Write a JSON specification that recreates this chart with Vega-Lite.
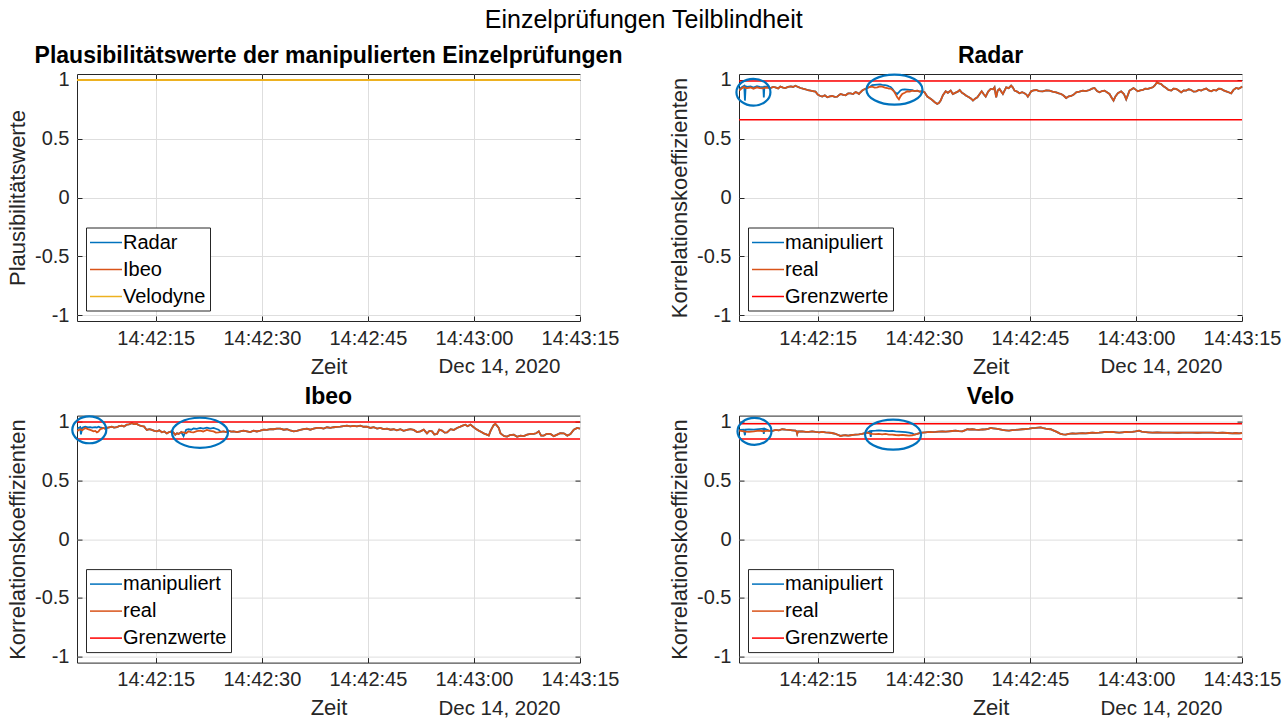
{
  "$schema": "https://vega.github.io/schema/vega-lite/v6.json",
  "padding": {"left": 6, "top": 8, "right": 0, "bottom": 0},
  "title": {"text": "Einzelprüfungen Teilblindheit", "fontSize": 25, "fontWeight": "normal", "color": "#000000", "anchor": "middle", "offset": 11},
  "config": {
    "font": "Liberation Sans",
    "background": "#ffffff",
    "view": {"stroke": "#262626", "strokeWidth": 1},
    "title": {"font": "Liberation Sans", "fontSize": 23, "fontWeight": "bold", "color": "#000000", "anchor": "middle", "offset": 2},
    "axis": {
      "labelFont": "Liberation Sans", "labelFontSize": 20, "labelColor": "#262626",
      "titleFont": "Liberation Sans", "titleFontSize": 22, "titleFontWeight": "normal", "titleColor": "#262626",
      "gridColor": "#DEDEDE", "gridWidth": 1, "gridOpacity": 1,
      "tickColor": "#262626", "tickSize": -5, "tickWidth": 1,
      "domain": false, "labelFlush": false, "labelOverlap": false
    },
    "legend": {
      "labelFont": "Liberation Sans", "labelFontSize": 20, "labelColor": "#000000",
      "strokeColor": "#262626", "fillColor": "#ffffff", "padding": 4, "rowPadding": 6,
      "symbolType": "M-1.6,0H1.6", "symbolSize": 400, "symbolStrokeWidth": 1.5,
      "symbolOffset": 5, "labelOffset": 6
    }
  },
  "datasets": {
    "plaus": [
      {"t": "2020-12-14T14:42:03.86Z", "radar": 1, "ibeo": 1, "velodyne": 1},
      {"t": "2020-12-14T14:43:15Z", "radar": 1, "ibeo": 1, "velodyne": 1}
    ],
    "limits": [
      {"p": "Radar", "v": 0.99}, {"p": "Radar", "v": 0.66},
      {"p": "Ibeo", "v": 0.995}, {"p": "Ibeo", "v": 0.85},
      {"p": "Velo", "v": 0.98}, {"p": "Velo", "v": 0.85}
    ],
    "rings": [
      {"p": "Radar", "t": "2020-12-14T14:42:05.9Z", "v": 0.895, "k": "a"},
      {"p": "Radar", "t": "2020-12-14T14:42:25.85Z", "v": 0.917, "k": "b"},
      {"p": "Ibeo", "t": "2020-12-14T14:42:05.6Z", "v": 0.929, "k": "a"},
      {"p": "Ibeo", "t": "2020-12-14T14:42:21.25Z", "v": 0.904, "k": "b"},
      {"p": "Velo", "t": "2020-12-14T14:42:06.05Z", "v": 0.916, "k": "a"},
      {"p": "Velo", "t": "2020-12-14T14:42:25.65Z", "v": 0.888, "k": "b"}
    ],
    "radar": [
      {"t":"2020-12-14T14:42:03.9Z","r":0.91,"m":0.92},
      {"t":"2020-12-14T14:42:04.3Z","r":0.93,"m":0.94},
      {"t":"2020-12-14T14:42:04.6Z","r":0.94,"m":0.95},
      {"t":"2020-12-14T14:42:04.7Z","r":0.935,"m":0.824},
      {"t":"2020-12-14T14:42:04.8Z","r":0.93,"m":0.945},
      {"t":"2020-12-14T14:42:05.0Z","r":0.93,"m":0.94},
      {"t":"2020-12-14T14:42:05.5Z","r":0.935,"m":0.945},
      {"t":"2020-12-14T14:42:05.9Z","r":0.925,"m":0.935},
      {"t":"2020-12-14T14:42:06.4Z","r":0.937,"m":0.947},
      {"t":"2020-12-14T14:42:06.8Z","r":0.93,"m":0.94},
      {"t":"2020-12-14T14:42:07.3Z","r":0.928,"m":0.938},
      {"t":"2020-12-14T14:42:07.37Z","r":0.93,"m":0.85},
      {"t":"2020-12-14T14:42:07.45Z","r":0.932,"m":0.942},
      {"t":"2020-12-14T14:42:07.8Z","r":0.935,"m":0.943},
      {"t":"2020-12-14T14:42:08.3Z","r":0.93,"m":0.93},
      {"t":"2020-12-14T14:42:08.7Z","r":0.94,"m":0.94},
      {"t":"2020-12-14T14:42:09.0Z","r":0.937,"m":0.937},
      {"t":"2020-12-14T14:42:09.4Z","r":0.928,"m":0.928},
      {"t":"2020-12-14T14:42:09.7Z","r":0.943,"m":0.943},
      {"t":"2020-12-14T14:42:10.1Z","r":0.935,"m":0.935},
      {"t":"2020-12-14T14:42:10.4Z","r":0.93,"m":0.93},
      {"t":"2020-12-14T14:42:10.8Z","r":0.94,"m":0.94},
      {"t":"2020-12-14T14:42:11.2Z","r":0.945,"m":0.945},
      {"t":"2020-12-14T14:42:11.5Z","r":0.94,"m":0.94},
      {"t":"2020-12-14T14:42:11.85Z","r":0.951,"m":0.951},
      {"t":"2020-12-14T14:42:12.2Z","r":0.94,"m":0.94},
      {"t":"2020-12-14T14:42:12.56Z","r":0.931,"m":0.931},
      {"t":"2020-12-14T14:42:12.9Z","r":0.925,"m":0.925},
      {"t":"2020-12-14T14:42:13.27Z","r":0.92,"m":0.92},
      {"t":"2020-12-14T14:42:13.6Z","r":0.912,"m":0.912},
      {"t":"2020-12-14T14:42:13.98Z","r":0.909,"m":0.909},
      {"t":"2020-12-14T14:42:14.3Z","r":0.905,"m":0.905},
      {"t":"2020-12-14T14:42:14.68Z","r":0.9,"m":0.9},
      {"t":"2020-12-14T14:42:15.0Z","r":0.875,"m":0.875},
      {"t":"2020-12-14T14:42:15.3Z","r":0.865,"m":0.865},
      {"t":"2020-12-14T14:42:15.63Z","r":0.858,"m":0.858},
      {"t":"2020-12-14T14:42:16.0Z","r":0.868,"m":0.868},
      {"t":"2020-12-14T14:42:16.34Z","r":0.852,"m":0.852},
      {"t":"2020-12-14T14:42:16.7Z","r":0.86,"m":0.86},
      {"t":"2020-12-14T14:42:17.04Z","r":0.863,"m":0.863},
      {"t":"2020-12-14T14:42:17.4Z","r":0.855,"m":0.855},
      {"t":"2020-12-14T14:42:17.75Z","r":0.858,"m":0.858},
      {"t":"2020-12-14T14:42:18.0Z","r":0.87,"m":0.87},
      {"t":"2020-12-14T14:42:18.22Z","r":0.88,"m":0.88},
      {"t":"2020-12-14T14:42:18.6Z","r":0.872,"m":0.872},
      {"t":"2020-12-14T14:42:18.93Z","r":0.869,"m":0.869},
      {"t":"2020-12-14T14:42:19.3Z","r":0.885,"m":0.885},
      {"t":"2020-12-14T14:42:19.64Z","r":0.886,"m":0.886},
      {"t":"2020-12-14T14:42:20.0Z","r":0.88,"m":0.88},
      {"t":"2020-12-14T14:42:20.35Z","r":0.897,"m":0.897},
      {"t":"2020-12-14T14:42:20.6Z","r":0.89,"m":0.89},
      {"t":"2020-12-14T14:42:20.82Z","r":0.88,"m":0.88},
      {"t":"2020-12-14T14:42:21.05Z","r":0.895,"m":0.895},
      {"t":"2020-12-14T14:42:21.29Z","r":0.909,"m":0.909},
      {"t":"2020-12-14T14:42:21.6Z","r":0.92,"m":0.92},
      {"t":"2020-12-14T14:42:22.0Z","r":0.931,"m":0.931},
      {"t":"2020-12-14T14:42:22.35Z","r":0.94,"m":0.94},
      {"t":"2020-12-14T14:42:22.7Z","r":0.943,"m":0.955},
      {"t":"2020-12-14T14:42:23.05Z","r":0.935,"m":0.958},
      {"t":"2020-12-14T14:42:23.41Z","r":0.937,"m":0.96},
      {"t":"2020-12-14T14:42:23.8Z","r":0.945,"m":0.962},
      {"t":"2020-12-14T14:42:24.12Z","r":0.943,"m":0.958},
      {"t":"2020-12-14T14:42:24.5Z","r":0.935,"m":0.955},
      {"t":"2020-12-14T14:42:24.83Z","r":0.931,"m":0.952},
      {"t":"2020-12-14T14:42:25.05Z","r":0.925,"m":0.945},
      {"t":"2020-12-14T14:42:25.3Z","r":0.926,"m":0.94},
      {"t":"2020-12-14T14:42:25.55Z","r":0.915,"m":0.925},
      {"t":"2020-12-14T14:42:25.77Z","r":0.903,"m":0.905},
      {"t":"2020-12-14T14:42:26.0Z","r":0.88,"m":0.89},
      {"t":"2020-12-14T14:42:26.24Z","r":0.852,"m":0.88},
      {"t":"2020-12-14T14:42:26.48Z","r":0.835,"m":0.895},
      {"t":"2020-12-14T14:42:26.7Z","r":0.86,"m":0.91},
      {"t":"2020-12-14T14:42:26.95Z","r":0.88,"m":0.918},
      {"t":"2020-12-14T14:42:27.3Z","r":0.89,"m":0.92},
      {"t":"2020-12-14T14:42:27.66Z","r":0.903,"m":0.918},
      {"t":"2020-12-14T14:42:28.0Z","r":0.9,"m":0.915},
      {"t":"2020-12-14T14:42:28.37Z","r":0.909,"m":0.912},
      {"t":"2020-12-14T14:42:28.7Z","r":0.905,"m":0.905},
      {"t":"2020-12-14T14:42:29.07Z","r":0.909,"m":0.909},
      {"t":"2020-12-14T14:42:29.4Z","r":0.9,"m":0.9},
      {"t":"2020-12-14T14:42:29.78Z","r":0.903,"m":0.903},
      {"t":"2020-12-14T14:42:30.1Z","r":0.895,"m":0.895},
      {"t":"2020-12-14T14:42:30.49Z","r":0.858,"m":0.858},
      {"t":"2020-12-14T14:42:30.8Z","r":0.845,"m":0.845},
      {"t":"2020-12-14T14:42:31.19Z","r":0.829,"m":0.829},
      {"t":"2020-12-14T14:42:31.55Z","r":0.81,"m":0.81},
      {"t":"2020-12-14T14:42:31.9Z","r":0.795,"m":0.795},
      {"t":"2020-12-14T14:42:32.15Z","r":0.805,"m":0.805},
      {"t":"2020-12-14T14:42:32.38Z","r":0.824,"m":0.824},
      {"t":"2020-12-14T14:42:32.7Z","r":0.87,"m":0.87},
      {"t":"2020-12-14T14:42:33.09Z","r":0.903,"m":0.903},
      {"t":"2020-12-14T14:42:33.4Z","r":0.89,"m":0.89},
      {"t":"2020-12-14T14:42:33.8Z","r":0.909,"m":0.909},
      {"t":"2020-12-14T14:42:34.1Z","r":0.88,"m":0.88},
      {"t":"2020-12-14T14:42:34.5Z","r":0.892,"m":0.892},
      {"t":"2020-12-14T14:42:34.8Z","r":0.9,"m":0.9},
      {"t":"2020-12-14T14:42:35.07Z","r":0.914,"m":0.914},
      {"t":"2020-12-14T14:42:35.4Z","r":0.89,"m":0.89},
      {"t":"2020-12-14T14:42:35.68Z","r":0.88,"m":0.88},
      {"t":"2020-12-14T14:42:36.0Z","r":0.865,"m":0.865},
      {"t":"2020-12-14T14:42:36.39Z","r":0.852,"m":0.852},
      {"t":"2020-12-14T14:42:36.7Z","r":0.84,"m":0.84},
      {"t":"2020-12-14T14:42:36.95Z","r":0.824,"m":0.824},
      {"t":"2020-12-14T14:42:37.25Z","r":0.84,"m":0.84},
      {"t":"2020-12-14T14:42:37.57Z","r":0.852,"m":0.852},
      {"t":"2020-12-14T14:42:37.9Z","r":0.88,"m":0.88},
      {"t":"2020-12-14T14:42:38.18Z","r":0.903,"m":0.903},
      {"t":"2020-12-14T14:42:38.45Z","r":0.88,"m":0.88},
      {"t":"2020-12-14T14:42:38.75Z","r":0.858,"m":0.858},
      {"t":"2020-12-14T14:42:39.1Z","r":0.9,"m":0.9},
      {"t":"2020-12-14T14:42:39.46Z","r":0.923,"m":0.923},
      {"t":"2020-12-14T14:42:39.8Z","r":0.92,"m":0.92},
      {"t":"2020-12-14T14:42:40.0Z","r":0.937,"m":0.937},
      {"t":"2020-12-14T14:42:40.23Z","r":0.852,"m":0.852},
      {"t":"2020-12-14T14:42:40.45Z","r":0.91,"m":0.91},
      {"t":"2020-12-14T14:42:40.7Z","r":0.923,"m":0.923},
      {"t":"2020-12-14T14:42:41.18Z","r":0.88,"m":0.88},
      {"t":"2020-12-14T14:42:41.65Z","r":0.937,"m":0.937},
      {"t":"2020-12-14T14:42:42.0Z","r":0.93,"m":0.93},
      {"t":"2020-12-14T14:42:42.35Z","r":0.951,"m":0.951},
      {"t":"2020-12-14T14:42:42.6Z","r":0.935,"m":0.935},
      {"t":"2020-12-14T14:42:42.83Z","r":0.909,"m":0.909},
      {"t":"2020-12-14T14:42:43.2Z","r":0.9,"m":0.9},
      {"t":"2020-12-14T14:42:43.53Z","r":0.886,"m":0.886},
      {"t":"2020-12-14T14:42:43.9Z","r":0.895,"m":0.895},
      {"t":"2020-12-14T14:42:44.24Z","r":0.886,"m":0.886},
      {"t":"2020-12-14T14:42:44.5Z","r":0.875,"m":0.875},
      {"t":"2020-12-14T14:42:44.71Z","r":0.858,"m":0.858},
      {"t":"2020-12-14T14:42:44.95Z","r":0.88,"m":0.88},
      {"t":"2020-12-14T14:42:45.18Z","r":0.903,"m":0.903},
      {"t":"2020-12-14T14:42:45.5Z","r":0.91,"m":0.91},
      {"t":"2020-12-14T14:42:45.89Z","r":0.914,"m":0.914},
      {"t":"2020-12-14T14:42:46.3Z","r":0.905,"m":0.905},
      {"t":"2020-12-14T14:42:46.83Z","r":0.903,"m":0.903},
      {"t":"2020-12-14T14:42:47.3Z","r":0.91,"m":0.91},
      {"t":"2020-12-14T14:42:47.78Z","r":0.909,"m":0.909},
      {"t":"2020-12-14T14:42:48.2Z","r":0.9,"m":0.9},
      {"t":"2020-12-14T14:42:48.72Z","r":0.894,"m":0.894},
      {"t":"2020-12-14T14:42:49.1Z","r":0.885,"m":0.885},
      {"t":"2020-12-14T14:42:49.43Z","r":0.88,"m":0.88},
      {"t":"2020-12-14T14:42:49.8Z","r":0.865,"m":0.865},
      {"t":"2020-12-14T14:42:50.13Z","r":0.846,"m":0.846},
      {"t":"2020-12-14T14:42:50.5Z","r":0.86,"m":0.86},
      {"t":"2020-12-14T14:42:50.84Z","r":0.863,"m":0.863},
      {"t":"2020-12-14T14:42:51.2Z","r":0.875,"m":0.875},
      {"t":"2020-12-14T14:42:51.55Z","r":0.894,"m":0.894},
      {"t":"2020-12-14T14:42:52.0Z","r":0.9,"m":0.9},
      {"t":"2020-12-14T14:42:52.49Z","r":0.909,"m":0.909},
      {"t":"2020-12-14T14:42:52.9Z","r":0.905,"m":0.905},
      {"t":"2020-12-14T14:42:53.43Z","r":0.914,"m":0.914},
      {"t":"2020-12-14T14:42:53.8Z","r":0.925,"m":0.925},
      {"t":"2020-12-14T14:42:54.14Z","r":0.931,"m":0.931},
      {"t":"2020-12-14T14:42:54.5Z","r":0.905,"m":0.905},
      {"t":"2020-12-14T14:42:54.85Z","r":0.894,"m":0.894},
      {"t":"2020-12-14T14:42:55.2Z","r":0.905,"m":0.905},
      {"t":"2020-12-14T14:42:55.56Z","r":0.909,"m":0.909},
      {"t":"2020-12-14T14:42:55.9Z","r":0.895,"m":0.895},
      {"t":"2020-12-14T14:42:56.26Z","r":0.88,"m":0.88},
      {"t":"2020-12-14T14:42:56.55Z","r":0.85,"m":0.85},
      {"t":"2020-12-14T14:42:56.83Z","r":0.824,"m":0.824},
      {"t":"2020-12-14T14:42:57.1Z","r":0.86,"m":0.86},
      {"t":"2020-12-14T14:42:57.44Z","r":0.886,"m":0.886},
      {"t":"2020-12-14T14:42:57.91Z","r":0.903,"m":0.903},
      {"t":"2020-12-14T14:42:58.3Z","r":0.88,"m":0.88},
      {"t":"2020-12-14T14:42:58.62Z","r":0.835,"m":0.835},
      {"t":"2020-12-14T14:42:58.85Z","r":0.87,"m":0.87},
      {"t":"2020-12-14T14:42:59.09Z","r":0.909,"m":0.909},
      {"t":"2020-12-14T14:42:59.4Z","r":0.92,"m":0.92},
      {"t":"2020-12-14T14:42:59.66Z","r":0.931,"m":0.931},
      {"t":"2020-12-14T14:43:00.0Z","r":0.915,"m":0.915},
      {"t":"2020-12-14T14:43:00.27Z","r":0.903,"m":0.903},
      {"t":"2020-12-14T14:43:00.6Z","r":0.91,"m":0.91},
      {"t":"2020-12-14T14:43:00.98Z","r":0.914,"m":0.914},
      {"t":"2020-12-14T14:43:01.3Z","r":0.925,"m":0.925},
      {"t":"2020-12-14T14:43:01.69Z","r":0.923,"m":0.923},
      {"t":"2020-12-14T14:43:02.0Z","r":0.93,"m":0.93},
      {"t":"2020-12-14T14:43:02.39Z","r":0.937,"m":0.937},
      {"t":"2020-12-14T14:43:02.7Z","r":0.955,"m":0.955},
      {"t":"2020-12-14T14:43:02.96Z","r":0.979,"m":0.979},
      {"t":"2020-12-14T14:43:03.25Z","r":0.97,"m":0.97},
      {"t":"2020-12-14T14:43:03.57Z","r":0.965,"m":0.965},
      {"t":"2020-12-14T14:43:03.9Z","r":0.945,"m":0.945},
      {"t":"2020-12-14T14:43:04.28Z","r":0.931,"m":0.931},
      {"t":"2020-12-14T14:43:04.6Z","r":0.915,"m":0.915},
      {"t":"2020-12-14T14:43:04.99Z","r":0.909,"m":0.909},
      {"t":"2020-12-14T14:43:05.3Z","r":0.925,"m":0.925},
      {"t":"2020-12-14T14:43:05.69Z","r":0.923,"m":0.923},
      {"t":"2020-12-14T14:43:06.05Z","r":0.91,"m":0.91},
      {"t":"2020-12-14T14:43:06.4Z","r":0.894,"m":0.894},
      {"t":"2020-12-14T14:43:06.75Z","r":0.91,"m":0.91},
      {"t":"2020-12-14T14:43:07.11Z","r":0.909,"m":0.909},
      {"t":"2020-12-14T14:43:07.45Z","r":0.92,"m":0.92},
      {"t":"2020-12-14T14:43:07.81Z","r":0.914,"m":0.914},
      {"t":"2020-12-14T14:43:08.15Z","r":0.9,"m":0.9},
      {"t":"2020-12-14T14:43:08.52Z","r":0.903,"m":0.903},
      {"t":"2020-12-14T14:43:08.9Z","r":0.915,"m":0.915},
      {"t":"2020-12-14T14:43:09.23Z","r":0.909,"m":0.909},
      {"t":"2020-12-14T14:43:09.6Z","r":0.92,"m":0.92},
      {"t":"2020-12-14T14:43:09.94Z","r":0.926,"m":0.926},
      {"t":"2020-12-14T14:43:10.3Z","r":0.91,"m":0.91},
      {"t":"2020-12-14T14:43:10.64Z","r":0.903,"m":0.903},
      {"t":"2020-12-14T14:43:11.0Z","r":0.915,"m":0.915},
      {"t":"2020-12-14T14:43:11.35Z","r":0.909,"m":0.909},
      {"t":"2020-12-14T14:43:11.7Z","r":0.925,"m":0.925},
      {"t":"2020-12-14T14:43:12.06Z","r":0.923,"m":0.923},
      {"t":"2020-12-14T14:43:12.4Z","r":0.91,"m":0.91},
      {"t":"2020-12-14T14:43:12.76Z","r":0.903,"m":0.903},
      {"t":"2020-12-14T14:43:13.1Z","r":0.895,"m":0.895},
      {"t":"2020-12-14T14:43:13.47Z","r":0.886,"m":0.886},
      {"t":"2020-12-14T14:43:13.8Z","r":0.915,"m":0.915},
      {"t":"2020-12-14T14:43:14.18Z","r":0.931,"m":0.931},
      {"t":"2020-12-14T14:43:14.5Z","r":0.925,"m":0.925},
      {"t":"2020-12-14T14:43:14.89Z","r":0.937,"m":0.937},
      {"t":"2020-12-14T14:43:15.0Z","r":0.945,"m":0.945}
    ],
    "ibeo": [
      {"t":"2020-12-14T14:42:03.9Z","r":0.92,"m":0.94},
      {"t":"2020-12-14T14:42:04.31Z","r":0.934,"m":0.952},
      {"t":"2020-12-14T14:42:04.42Z","r":0.93,"m":0.89},
      {"t":"2020-12-14T14:42:04.6Z","r":0.925,"m":0.948},
      {"t":"2020-12-14T14:42:05.02Z","r":0.945,"m":0.955},
      {"t":"2020-12-14T14:42:05.4Z","r":0.935,"m":0.95},
      {"t":"2020-12-14T14:42:05.72Z","r":0.928,"m":0.952},
      {"t":"2020-12-14T14:42:06.0Z","r":0.922,"m":0.948},
      {"t":"2020-12-14T14:42:06.19Z","r":0.916,"m":0.95},
      {"t":"2020-12-14T14:42:06.45Z","r":0.92,"m":0.952},
      {"t":"2020-12-14T14:42:06.67Z","r":0.908,"m":0.948},
      {"t":"2020-12-14T14:42:06.9Z","r":0.915,"m":0.955},
      {"t":"2020-12-14T14:42:07.14Z","r":0.934,"m":0.95},
      {"t":"2020-12-14T14:42:07.4Z","r":0.94,"m":0.945},
      {"t":"2020-12-14T14:42:07.61Z","r":0.945,"m":0.945},
      {"t":"2020-12-14T14:42:07.85Z","r":0.938,"m":0.938},
      {"t":"2020-12-14T14:42:08.08Z","r":0.945,"m":0.945},
      {"t":"2020-12-14T14:42:08.4Z","r":0.95,"m":0.95},
      {"t":"2020-12-14T14:42:08.79Z","r":0.956,"m":0.956},
      {"t":"2020-12-14T14:42:09.1Z","r":0.948,"m":0.948},
      {"t":"2020-12-14T14:42:09.5Z","r":0.951,"m":0.951},
      {"t":"2020-12-14T14:42:09.8Z","r":0.96,"m":0.96},
      {"t":"2020-12-14T14:42:10.2Z","r":0.965,"m":0.965},
      {"t":"2020-12-14T14:42:10.5Z","r":0.958,"m":0.958},
      {"t":"2020-12-14T14:42:10.91Z","r":0.973,"m":0.973},
      {"t":"2020-12-14T14:42:11.2Z","r":0.975,"m":0.975},
      {"t":"2020-12-14T14:42:11.62Z","r":0.985,"m":0.985},
      {"t":"2020-12-14T14:42:11.9Z","r":0.978,"m":0.978},
      {"t":"2020-12-14T14:42:12.33Z","r":0.979,"m":0.979},
      {"t":"2020-12-14T14:42:12.55Z","r":0.97,"m":0.97},
      {"t":"2020-12-14T14:42:12.8Z","r":0.965,"m":0.965},
      {"t":"2020-12-14T14:42:13.1Z","r":0.96,"m":0.96},
      {"t":"2020-12-14T14:42:13.37Z","r":0.956,"m":0.956},
      {"t":"2020-12-14T14:42:13.55Z","r":0.94,"m":0.94},
      {"t":"2020-12-14T14:42:13.74Z","r":0.928,"m":0.928},
      {"t":"2020-12-14T14:42:14.1Z","r":0.935,"m":0.935},
      {"t":"2020-12-14T14:42:14.45Z","r":0.928,"m":0.928},
      {"t":"2020-12-14T14:42:14.8Z","r":0.92,"m":0.92},
      {"t":"2020-12-14T14:42:15.16Z","r":0.916,"m":0.916},
      {"t":"2020-12-14T14:42:15.5Z","r":0.925,"m":0.925},
      {"t":"2020-12-14T14:42:15.87Z","r":0.908,"m":0.908},
      {"t":"2020-12-14T14:42:16.2Z","r":0.915,"m":0.915},
      {"t":"2020-12-14T14:42:16.57Z","r":0.899,"m":0.899},
      {"t":"2020-12-14T14:42:16.9Z","r":0.91,"m":0.91},
      {"t":"2020-12-14T14:42:17.28Z","r":0.916,"m":0.916},
      {"t":"2020-12-14T14:42:17.5Z","r":0.905,"m":0.905},
      {"t":"2020-12-14T14:42:17.75Z","r":0.888,"m":0.888},
      {"t":"2020-12-14T14:42:18.0Z","r":0.9,"m":0.9},
      {"t":"2020-12-14T14:42:18.23Z","r":0.894,"m":0.894},
      {"t":"2020-12-14T14:42:18.6Z","r":0.91,"m":0.91},
      {"t":"2020-12-14T14:42:18.93Z","r":0.908,"m":0.875},
      {"t":"2020-12-14T14:42:19.3Z","r":0.9,"m":0.93},
      {"t":"2020-12-14T14:42:19.64Z","r":0.916,"m":0.935},
      {"t":"2020-12-14T14:42:20.0Z","r":0.91,"m":0.93},
      {"t":"2020-12-14T14:42:20.35Z","r":0.908,"m":0.94},
      {"t":"2020-12-14T14:42:20.8Z","r":0.918,"m":0.938},
      {"t":"2020-12-14T14:42:21.29Z","r":0.922,"m":0.945},
      {"t":"2020-12-14T14:42:21.7Z","r":0.915,"m":0.94},
      {"t":"2020-12-14T14:42:22.23Z","r":0.928,"m":0.948},
      {"t":"2020-12-14T14:42:22.7Z","r":0.92,"m":0.94},
      {"t":"2020-12-14T14:42:23.18Z","r":0.916,"m":0.945},
      {"t":"2020-12-14T14:42:23.5Z","r":0.905,"m":0.938},
      {"t":"2020-12-14T14:42:23.88Z","r":0.908,"m":0.93},
      {"t":"2020-12-14T14:42:24.2Z","r":0.912,"m":0.912},
      {"t":"2020-12-14T14:42:24.59Z","r":0.916,"m":0.916},
      {"t":"2020-12-14T14:42:24.95Z","r":0.91,"m":0.91},
      {"t":"2020-12-14T14:42:25.3Z","r":0.922,"m":0.922},
      {"t":"2020-12-14T14:42:25.65Z","r":0.914,"m":0.914},
      {"t":"2020-12-14T14:42:26.01Z","r":0.916,"m":0.916},
      {"t":"2020-12-14T14:42:26.5Z","r":0.91,"m":0.91},
      {"t":"2020-12-14T14:42:26.95Z","r":0.916,"m":0.916},
      {"t":"2020-12-14T14:42:27.4Z","r":0.922,"m":0.922},
      {"t":"2020-12-14T14:42:27.9Z","r":0.916,"m":0.916},
      {"t":"2020-12-14T14:42:28.35Z","r":0.91,"m":0.91},
      {"t":"2020-12-14T14:42:28.84Z","r":0.922,"m":0.922},
      {"t":"2020-12-14T14:42:29.3Z","r":0.915,"m":0.915},
      {"t":"2020-12-14T14:42:29.78Z","r":0.922,"m":0.922},
      {"t":"2020-12-14T14:42:30.25Z","r":0.93,"m":0.93},
      {"t":"2020-12-14T14:42:30.72Z","r":0.928,"m":0.928},
      {"t":"2020-12-14T14:42:31.2Z","r":0.935,"m":0.935},
      {"t":"2020-12-14T14:42:31.67Z","r":0.934,"m":0.934},
      {"t":"2020-12-14T14:42:32.1Z","r":0.94,"m":0.94},
      {"t":"2020-12-14T14:42:32.61Z","r":0.939,"m":0.939},
      {"t":"2020-12-14T14:42:33.1Z","r":0.93,"m":0.93},
      {"t":"2020-12-14T14:42:33.55Z","r":0.934,"m":0.934},
      {"t":"2020-12-14T14:42:34.0Z","r":0.925,"m":0.925},
      {"t":"2020-12-14T14:42:34.5Z","r":0.916,"m":0.916},
      {"t":"2020-12-14T14:42:34.95Z","r":0.92,"m":0.92},
      {"t":"2020-12-14T14:42:35.44Z","r":0.928,"m":0.928},
      {"t":"2020-12-14T14:42:35.9Z","r":0.935,"m":0.935},
      {"t":"2020-12-14T14:42:36.38Z","r":0.939,"m":0.939},
      {"t":"2020-12-14T14:42:36.85Z","r":0.93,"m":0.93},
      {"t":"2020-12-14T14:42:37.33Z","r":0.939,"m":0.939},
      {"t":"2020-12-14T14:42:37.8Z","r":0.945,"m":0.945},
      {"t":"2020-12-14T14:42:38.27Z","r":0.945,"m":0.945},
      {"t":"2020-12-14T14:42:38.75Z","r":0.94,"m":0.94},
      {"t":"2020-12-14T14:42:39.21Z","r":0.951,"m":0.951},
      {"t":"2020-12-14T14:42:39.7Z","r":0.945,"m":0.945},
      {"t":"2020-12-14T14:42:40.16Z","r":0.951,"m":0.951},
      {"t":"2020-12-14T14:42:40.6Z","r":0.955,"m":0.955},
      {"t":"2020-12-14T14:42:41.1Z","r":0.956,"m":0.956},
      {"t":"2020-12-14T14:42:41.55Z","r":0.96,"m":0.96},
      {"t":"2020-12-14T14:42:42.04Z","r":0.965,"m":0.965},
      {"t":"2020-12-14T14:42:42.5Z","r":0.958,"m":0.958},
      {"t":"2020-12-14T14:42:42.99Z","r":0.962,"m":0.962},
      {"t":"2020-12-14T14:42:43.45Z","r":0.958,"m":0.958},
      {"t":"2020-12-14T14:42:43.93Z","r":0.965,"m":0.965},
      {"t":"2020-12-14T14:42:44.4Z","r":0.955,"m":0.955},
      {"t":"2020-12-14T14:42:44.87Z","r":0.956,"m":0.956},
      {"t":"2020-12-14T14:42:45.35Z","r":0.945,"m":0.945},
      {"t":"2020-12-14T14:42:45.82Z","r":0.951,"m":0.951},
      {"t":"2020-12-14T14:42:46.3Z","r":0.94,"m":0.94},
      {"t":"2020-12-14T14:42:46.76Z","r":0.945,"m":0.945},
      {"t":"2020-12-14T14:42:47.2Z","r":0.935,"m":0.935},
      {"t":"2020-12-14T14:42:47.71Z","r":0.939,"m":0.939},
      {"t":"2020-12-14T14:42:48.2Z","r":0.93,"m":0.93},
      {"t":"2020-12-14T14:42:48.65Z","r":0.934,"m":0.934},
      {"t":"2020-12-14T14:42:49.1Z","r":0.925,"m":0.925},
      {"t":"2020-12-14T14:42:49.59Z","r":0.934,"m":0.934},
      {"t":"2020-12-14T14:42:50.05Z","r":0.92,"m":0.92},
      {"t":"2020-12-14T14:42:50.53Z","r":0.928,"m":0.928},
      {"t":"2020-12-14T14:42:51.0Z","r":0.935,"m":0.935},
      {"t":"2020-12-14T14:42:51.48Z","r":0.928,"m":0.928},
      {"t":"2020-12-14T14:42:51.95Z","r":0.91,"m":0.91},
      {"t":"2020-12-14T14:42:52.42Z","r":0.916,"m":0.916},
      {"t":"2020-12-14T14:42:52.9Z","r":0.93,"m":0.93},
      {"t":"2020-12-14T14:42:53.36Z","r":0.899,"m":0.899},
      {"t":"2020-12-14T14:42:53.7Z","r":0.92,"m":0.92},
      {"t":"2020-12-14T14:42:54.07Z","r":0.916,"m":0.916},
      {"t":"2020-12-14T14:42:54.4Z","r":0.89,"m":0.89},
      {"t":"2020-12-14T14:42:54.78Z","r":0.894,"m":0.894},
      {"t":"2020-12-14T14:42:55.1Z","r":0.93,"m":0.93},
      {"t":"2020-12-14T14:42:55.49Z","r":0.922,"m":0.922},
      {"t":"2020-12-14T14:42:55.85Z","r":0.905,"m":0.905},
      {"t":"2020-12-14T14:42:56.2Z","r":0.908,"m":0.908},
      {"t":"2020-12-14T14:42:56.7Z","r":0.935,"m":0.935},
      {"t":"2020-12-14T14:42:57.14Z","r":0.928,"m":0.928},
      {"t":"2020-12-14T14:42:57.6Z","r":0.945,"m":0.945},
      {"t":"2020-12-14T14:42:58.08Z","r":0.956,"m":0.956},
      {"t":"2020-12-14T14:42:58.4Z","r":0.965,"m":0.965},
      {"t":"2020-12-14T14:42:58.79Z","r":0.973,"m":0.973},
      {"t":"2020-12-14T14:42:59.1Z","r":0.96,"m":0.96},
      {"t":"2020-12-14T14:42:59.5Z","r":0.973,"m":0.973},
      {"t":"2020-12-14T14:42:59.97Z","r":0.951,"m":0.951},
      {"t":"2020-12-14T14:43:00.3Z","r":0.935,"m":0.935},
      {"t":"2020-12-14T14:43:00.68Z","r":0.922,"m":0.922},
      {"t":"2020-12-14T14:43:01.05Z","r":0.91,"m":0.91},
      {"t":"2020-12-14T14:43:01.39Z","r":0.899,"m":0.899},
      {"t":"2020-12-14T14:43:01.75Z","r":0.89,"m":0.89},
      {"t":"2020-12-14T14:43:02.1Z","r":0.88,"m":0.88},
      {"t":"2020-12-14T14:43:02.35Z","r":0.92,"m":0.92},
      {"t":"2020-12-14T14:43:02.57Z","r":0.945,"m":0.945},
      {"t":"2020-12-14T14:43:02.8Z","r":0.97,"m":0.97},
      {"t":"2020-12-14T14:43:03.04Z","r":0.979,"m":0.979},
      {"t":"2020-12-14T14:43:03.25Z","r":0.965,"m":0.965},
      {"t":"2020-12-14T14:43:03.51Z","r":0.945,"m":0.945},
      {"t":"2020-12-14T14:43:03.75Z","r":0.9,"m":0.9},
      {"t":"2020-12-14T14:43:03.98Z","r":0.888,"m":0.888},
      {"t":"2020-12-14T14:43:04.3Z","r":0.875,"m":0.875},
      {"t":"2020-12-14T14:43:04.69Z","r":0.871,"m":0.871},
      {"t":"2020-12-14T14:43:05.1Z","r":0.885,"m":0.885},
      {"t":"2020-12-14T14:43:05.64Z","r":0.888,"m":0.888},
      {"t":"2020-12-14T14:43:06.1Z","r":0.87,"m":0.87},
      {"t":"2020-12-14T14:43:06.58Z","r":0.88,"m":0.88},
      {"t":"2020-12-14T14:43:07.05Z","r":0.875,"m":0.875},
      {"t":"2020-12-14T14:43:07.52Z","r":0.888,"m":0.888},
      {"t":"2020-12-14T14:43:08.0Z","r":0.895,"m":0.895},
      {"t":"2020-12-14T14:43:08.46Z","r":0.894,"m":0.894},
      {"t":"2020-12-14T14:43:08.8Z","r":0.9,"m":0.9},
      {"t":"2020-12-14T14:43:09.17Z","r":0.916,"m":0.916},
      {"t":"2020-12-14T14:43:09.5Z","r":0.88,"m":0.88},
      {"t":"2020-12-14T14:43:09.88Z","r":0.88,"m":0.88},
      {"t":"2020-12-14T14:43:10.3Z","r":0.895,"m":0.895},
      {"t":"2020-12-14T14:43:10.82Z","r":0.894,"m":0.894},
      {"t":"2020-12-14T14:43:11.3Z","r":0.875,"m":0.875},
      {"t":"2020-12-14T14:43:11.77Z","r":0.888,"m":0.888},
      {"t":"2020-12-14T14:43:12.2Z","r":0.9,"m":0.9},
      {"t":"2020-12-14T14:43:12.71Z","r":0.899,"m":0.899},
      {"t":"2020-12-14T14:43:13.2Z","r":0.88,"m":0.88},
      {"t":"2020-12-14T14:43:13.65Z","r":0.894,"m":0.894},
      {"t":"2020-12-14T14:43:14.12Z","r":0.93,"m":0.93},
      {"t":"2020-12-14T14:43:14.6Z","r":0.945,"m":0.945},
      {"t":"2020-12-14T14:43:15.0Z","r":0.94,"m":0.94}
    ],
    "velo": [
      {"t":"2020-12-14T14:42:03.9Z","r":0.922,"m":0.928},
      {"t":"2020-12-14T14:42:04.54Z","r":0.916,"m":0.93},
      {"t":"2020-12-14T14:42:04.7Z","r":0.915,"m":0.883},
      {"t":"2020-12-14T14:42:04.8Z","r":0.914,"m":0.93},
      {"t":"2020-12-14T14:42:05.25Z","r":0.911,"m":0.932},
      {"t":"2020-12-14T14:42:05.96Z","r":0.916,"m":0.93},
      {"t":"2020-12-14T14:42:06.67Z","r":0.922,"m":0.935},
      {"t":"2020-12-14T14:42:07.3Z","r":0.917,"m":0.939},
      {"t":"2020-12-14T14:42:07.37Z","r":0.916,"m":0.894},
      {"t":"2020-12-14T14:42:07.45Z","r":0.918,"m":0.94},
      {"t":"2020-12-14T14:42:08.08Z","r":0.922,"m":0.922},
      {"t":"2020-12-14T14:42:08.5Z","r":0.918,"m":0.918},
      {"t":"2020-12-14T14:42:09.03Z","r":0.928,"m":0.928},
      {"t":"2020-12-14T14:42:09.5Z","r":0.925,"m":0.925},
      {"t":"2020-12-14T14:42:09.97Z","r":0.934,"m":0.934},
      {"t":"2020-12-14T14:42:10.45Z","r":0.93,"m":0.93},
      {"t":"2020-12-14T14:42:10.91Z","r":0.928,"m":0.928},
      {"t":"2020-12-14T14:42:11.4Z","r":0.925,"m":0.925},
      {"t":"2020-12-14T14:42:11.86Z","r":0.922,"m":0.922},
      {"t":"2020-12-14T14:42:12.0Z","r":0.915,"m":0.915},
      {"t":"2020-12-14T14:42:12.09Z","r":0.894,"m":0.894},
      {"t":"2020-12-14T14:42:12.2Z","r":0.915,"m":0.915},
      {"t":"2020-12-14T14:42:12.8Z","r":0.916,"m":0.916},
      {"t":"2020-12-14T14:42:13.3Z","r":0.912,"m":0.912},
      {"t":"2020-12-14T14:42:13.74Z","r":0.911,"m":0.911},
      {"t":"2020-12-14T14:42:14.2Z","r":0.915,"m":0.915},
      {"t":"2020-12-14T14:42:14.68Z","r":0.911,"m":0.911},
      {"t":"2020-12-14T14:42:15.2Z","r":0.908,"m":0.908},
      {"t":"2020-12-14T14:42:15.63Z","r":0.911,"m":0.911},
      {"t":"2020-12-14T14:42:16.1Z","r":0.907,"m":0.907},
      {"t":"2020-12-14T14:42:16.57Z","r":0.905,"m":0.905},
      {"t":"2020-12-14T14:42:17.0Z","r":0.902,"m":0.902},
      {"t":"2020-12-14T14:42:17.52Z","r":0.894,"m":0.894},
      {"t":"2020-12-14T14:42:17.9Z","r":0.885,"m":0.885},
      {"t":"2020-12-14T14:42:18.22Z","r":0.877,"m":0.877},
      {"t":"2020-12-14T14:42:18.6Z","r":0.882,"m":0.882},
      {"t":"2020-12-14T14:42:18.93Z","r":0.883,"m":0.883},
      {"t":"2020-12-14T14:42:19.3Z","r":0.88,"m":0.88},
      {"t":"2020-12-14T14:42:19.64Z","r":0.883,"m":0.883},
      {"t":"2020-12-14T14:42:20.0Z","r":0.886,"m":0.886},
      {"t":"2020-12-14T14:42:20.35Z","r":0.888,"m":0.888},
      {"t":"2020-12-14T14:42:20.8Z","r":0.89,"m":0.89},
      {"t":"2020-12-14T14:42:21.29Z","r":0.894,"m":0.894},
      {"t":"2020-12-14T14:42:21.65Z","r":0.9,"m":0.9},
      {"t":"2020-12-14T14:42:22.0Z","r":0.905,"m":0.905},
      {"t":"2020-12-14T14:42:22.35Z","r":0.898,"m":0.918},
      {"t":"2020-12-14T14:42:22.5Z","r":0.896,"m":0.87},
      {"t":"2020-12-14T14:42:22.6Z","r":0.895,"m":0.92},
      {"t":"2020-12-14T14:42:22.7Z","r":0.894,"m":0.92},
      {"t":"2020-12-14T14:42:23.2Z","r":0.892,"m":0.922},
      {"t":"2020-12-14T14:42:23.65Z","r":0.894,"m":0.925},
      {"t":"2020-12-14T14:42:24.1Z","r":0.89,"m":0.922},
      {"t":"2020-12-14T14:42:24.59Z","r":0.894,"m":0.92},
      {"t":"2020-12-14T14:42:25.05Z","r":0.889,"m":0.918},
      {"t":"2020-12-14T14:42:25.53Z","r":0.888,"m":0.92},
      {"t":"2020-12-14T14:42:26.0Z","r":0.885,"m":0.916},
      {"t":"2020-12-14T14:42:26.48Z","r":0.883,"m":0.914},
      {"t":"2020-12-14T14:42:26.95Z","r":0.886,"m":0.912},
      {"t":"2020-12-14T14:42:27.42Z","r":0.883,"m":0.91},
      {"t":"2020-12-14T14:42:27.9Z","r":0.88,"m":0.905},
      {"t":"2020-12-14T14:42:28.37Z","r":0.883,"m":0.9},
      {"t":"2020-12-14T14:42:28.7Z","r":0.888,"m":0.888},
      {"t":"2020-12-14T14:42:29.07Z","r":0.894,"m":0.894},
      {"t":"2020-12-14T14:42:29.4Z","r":0.9,"m":0.9},
      {"t":"2020-12-14T14:42:29.78Z","r":0.905,"m":0.905},
      {"t":"2020-12-14T14:42:30.25Z","r":0.908,"m":0.908},
      {"t":"2020-12-14T14:42:30.72Z","r":0.911,"m":0.911},
      {"t":"2020-12-14T14:42:31.2Z","r":0.909,"m":0.909},
      {"t":"2020-12-14T14:42:31.67Z","r":0.911,"m":0.911},
      {"t":"2020-12-14T14:42:32.1Z","r":0.914,"m":0.914},
      {"t":"2020-12-14T14:42:32.61Z","r":0.916,"m":0.916},
      {"t":"2020-12-14T14:42:33.1Z","r":0.913,"m":0.913},
      {"t":"2020-12-14T14:42:33.55Z","r":0.916,"m":0.916},
      {"t":"2020-12-14T14:42:34.0Z","r":0.919,"m":0.919},
      {"t":"2020-12-14T14:42:34.5Z","r":0.922,"m":0.922},
      {"t":"2020-12-14T14:42:34.95Z","r":0.918,"m":0.918},
      {"t":"2020-12-14T14:42:35.44Z","r":0.916,"m":0.916},
      {"t":"2020-12-14T14:42:35.8Z","r":0.925,"m":0.925},
      {"t":"2020-12-14T14:42:36.15Z","r":0.934,"m":0.934},
      {"t":"2020-12-14T14:42:36.5Z","r":0.932,"m":0.932},
      {"t":"2020-12-14T14:42:36.86Z","r":0.934,"m":0.934},
      {"t":"2020-12-14T14:42:37.3Z","r":0.93,"m":0.93},
      {"t":"2020-12-14T14:42:37.8Z","r":0.928,"m":0.928},
      {"t":"2020-12-14T14:42:38.3Z","r":0.932,"m":0.932},
      {"t":"2020-12-14T14:42:38.75Z","r":0.934,"m":0.934},
      {"t":"2020-12-14T14:42:39.1Z","r":0.938,"m":0.938},
      {"t":"2020-12-14T14:42:39.46Z","r":0.945,"m":0.945},
      {"t":"2020-12-14T14:42:39.8Z","r":0.942,"m":0.942},
      {"t":"2020-12-14T14:42:40.17Z","r":0.939,"m":0.939},
      {"t":"2020-12-14T14:42:40.6Z","r":0.935,"m":0.935},
      {"t":"2020-12-14T14:42:41.11Z","r":0.928,"m":0.928},
      {"t":"2020-12-14T14:42:41.6Z","r":0.925,"m":0.925},
      {"t":"2020-12-14T14:42:42.05Z","r":0.922,"m":0.922},
      {"t":"2020-12-14T14:42:42.5Z","r":0.926,"m":0.926},
      {"t":"2020-12-14T14:42:42.99Z","r":0.928,"m":0.928},
      {"t":"2020-12-14T14:42:43.45Z","r":0.931,"m":0.931},
      {"t":"2020-12-14T14:42:43.94Z","r":0.934,"m":0.934},
      {"t":"2020-12-14T14:42:44.4Z","r":0.936,"m":0.936},
      {"t":"2020-12-14T14:42:44.88Z","r":0.939,"m":0.939},
      {"t":"2020-12-14T14:42:45.35Z","r":0.943,"m":0.943},
      {"t":"2020-12-14T14:42:45.82Z","r":0.945,"m":0.945},
      {"t":"2020-12-14T14:42:46.2Z","r":0.948,"m":0.948},
      {"t":"2020-12-14T14:42:46.53Z","r":0.95,"m":0.95},
      {"t":"2020-12-14T14:42:46.9Z","r":0.944,"m":0.944},
      {"t":"2020-12-14T14:42:47.24Z","r":0.939,"m":0.939},
      {"t":"2020-12-14T14:42:47.6Z","r":0.936,"m":0.936},
      {"t":"2020-12-14T14:42:47.95Z","r":0.934,"m":0.934},
      {"t":"2020-12-14T14:42:48.3Z","r":0.925,"m":0.925},
      {"t":"2020-12-14T14:42:48.65Z","r":0.916,"m":0.916},
      {"t":"2020-12-14T14:42:49.0Z","r":0.905,"m":0.905},
      {"t":"2020-12-14T14:42:49.36Z","r":0.894,"m":0.894},
      {"t":"2020-12-14T14:42:49.7Z","r":0.89,"m":0.89},
      {"t":"2020-12-14T14:42:50.07Z","r":0.888,"m":0.888},
      {"t":"2020-12-14T14:42:50.5Z","r":0.895,"m":0.895},
      {"t":"2020-12-14T14:42:51.01Z","r":0.899,"m":0.899},
      {"t":"2020-12-14T14:42:51.5Z","r":0.897,"m":0.897},
      {"t":"2020-12-14T14:42:51.96Z","r":0.899,"m":0.899},
      {"t":"2020-12-14T14:42:52.4Z","r":0.9,"m":0.9},
      {"t":"2020-12-14T14:42:52.9Z","r":0.899,"m":0.899},
      {"t":"2020-12-14T14:42:53.4Z","r":0.902,"m":0.902},
      {"t":"2020-12-14T14:42:53.84Z","r":0.905,"m":0.905},
      {"t":"2020-12-14T14:42:54.3Z","r":0.903,"m":0.903},
      {"t":"2020-12-14T14:42:54.79Z","r":0.905,"m":0.905},
      {"t":"2020-12-14T14:42:55.25Z","r":0.908,"m":0.908},
      {"t":"2020-12-14T14:42:55.73Z","r":0.911,"m":0.911},
      {"t":"2020-12-14T14:42:56.2Z","r":0.909,"m":0.909},
      {"t":"2020-12-14T14:42:56.67Z","r":0.911,"m":0.911},
      {"t":"2020-12-14T14:42:57.15Z","r":0.908,"m":0.908},
      {"t":"2020-12-14T14:42:57.62Z","r":0.905,"m":0.905},
      {"t":"2020-12-14T14:42:58.1Z","r":0.908,"m":0.908},
      {"t":"2020-12-14T14:42:58.56Z","r":0.911,"m":0.911},
      {"t":"2020-12-14T14:42:59.0Z","r":0.909,"m":0.909},
      {"t":"2020-12-14T14:42:59.5Z","r":0.911,"m":0.911},
      {"t":"2020-12-14T14:42:59.95Z","r":0.915,"m":0.915},
      {"t":"2020-12-14T14:43:00.45Z","r":0.922,"m":0.922},
      {"t":"2020-12-14T14:43:00.8Z","r":0.914,"m":0.914},
      {"t":"2020-12-14T14:43:01.15Z","r":0.911,"m":0.911},
      {"t":"2020-12-14T14:43:01.7Z","r":0.908,"m":0.908},
      {"t":"2020-12-14T14:43:02.33Z","r":0.905,"m":0.905},
      {"t":"2020-12-14T14:43:03.0Z","r":0.907,"m":0.907},
      {"t":"2020-12-14T14:43:03.75Z","r":0.905,"m":0.905},
      {"t":"2020-12-14T14:43:04.4Z","r":0.906,"m":0.906},
      {"t":"2020-12-14T14:43:05.16Z","r":0.905,"m":0.905},
      {"t":"2020-12-14T14:43:05.9Z","r":0.904,"m":0.904},
      {"t":"2020-12-14T14:43:06.58Z","r":0.905,"m":0.905},
      {"t":"2020-12-14T14:43:07.3Z","r":0.906,"m":0.906},
      {"t":"2020-12-14T14:43:07.99Z","r":0.905,"m":0.905},
      {"t":"2020-12-14T14:43:08.7Z","r":0.904,"m":0.904},
      {"t":"2020-12-14T14:43:09.41Z","r":0.905,"m":0.905},
      {"t":"2020-12-14T14:43:10.1Z","r":0.906,"m":0.906},
      {"t":"2020-12-14T14:43:10.82Z","r":0.905,"m":0.905},
      {"t":"2020-12-14T14:43:11.5Z","r":0.903,"m":0.903},
      {"t":"2020-12-14T14:43:12.24Z","r":0.905,"m":0.905},
      {"t":"2020-12-14T14:43:12.9Z","r":0.902,"m":0.902},
      {"t":"2020-12-14T14:43:13.65Z","r":0.899,"m":0.899},
      {"t":"2020-12-14T14:43:14.1Z","r":0.902,"m":0.902},
      {"t":"2020-12-14T14:43:14.6Z","r":0.899,"m":0.899},
      {"t":"2020-12-14T14:43:15.0Z","r":0.902,"m":0.902}
    ]
  },
  "columns": 2,
  "bounds": "flush",
  "spacing": {"row": 94.6, "column": 159},
  "resolve": {"scale": {"color": "independent"}, "legend": {"color": "independent"}},
  "concat": [
    {
      "width": 503, "height": 247,
      "title": {"text": "Plausibilitätswerte der manipulierten Einzelprüfungen"},
      "resolve": {"axis": {"x": "independent", "y": "independent"}},
      "layer": [
        {
          "data": {"name": "plaus"},
          "mark": {"type": "line", "strokeWidth": 2},
          "encoding": {
            "x": {"field": "t", "type": "temporal",
              "scale": {"type": "utc", "domain": [{"year": 2020, "month": 12, "date": 14, "hours": 14, "minutes": 42, "seconds": 3, "milliseconds": 860, "utc": true}, {"year": 2020, "month": 12, "date": 14, "hours": 14, "minutes": 43, "seconds": 15, "utc": true}]},
              "axis": {"title": "Zeit", "format": "%H:%M:%S", "grid": true, "labelPadding": 12, "titlePadding": 8,
                "values": [{"year": 2020, "month": 12, "date": 14, "hours": 14, "minutes": 42, "seconds": 15, "utc": true}, {"year": 2020, "month": 12, "date": 14, "hours": 14, "minutes": 42, "seconds": 30, "utc": true}, {"year": 2020, "month": 12, "date": 14, "hours": 14, "minutes": 42, "seconds": 45, "utc": true}, {"year": 2020, "month": 12, "date": 14, "hours": 14, "minutes": 43, "seconds": 0, "utc": true}, {"year": 2020, "month": 12, "date": 14, "hours": 14, "minutes": 43, "seconds": 15, "utc": true}]}},
            "y": {"field": "radar", "type": "quantitative",
              "scale": {"domain": [-1.05, 1.05], "nice": false, "zero": false},
              "axis": {"title": "Plausibilitätswerte", "values": [-1, -0.5, 0, 0.5, 1], "labelExpr": "'' + datum.value", "grid": true, "labelPadding": 13, "titlePadding": 5}},
            "color": {"datum": "Radar", "type": "nominal",
              "scale": {"domain": ["Radar", "Ibeo", "Velodyne"], "range": ["#0072BD", "#D95319", "#EDB120"]},
              "legend": {"orient": "none", "legendX": 9, "legendY": 153.5, "title": null}}
          }
        },
        {
          "data": {"name": "plaus"},
          "mark": {"type": "line", "strokeWidth": 2},
          "encoding": {
            "x": {"field": "t", "type": "temporal",
              "axis": {"orient": "top", "labels": false, "title": null, "grid": false,
                "values": [{"year": 2020, "month": 12, "date": 14, "hours": 14, "minutes": 42, "seconds": 15, "utc": true}, {"year": 2020, "month": 12, "date": 14, "hours": 14, "minutes": 42, "seconds": 30, "utc": true}, {"year": 2020, "month": 12, "date": 14, "hours": 14, "minutes": 42, "seconds": 45, "utc": true}, {"year": 2020, "month": 12, "date": 14, "hours": 14, "minutes": 43, "seconds": 0, "utc": true}]}},
            "y": {"field": "ibeo", "type": "quantitative",
              "axis": {"orient": "right", "labels": false, "title": null, "grid": false, "values": [-1, -0.5, 0, 0.5, 1]}},
            "color": {"datum": "Ibeo", "type": "nominal"}
          }
        },
        {
          "data": {"name": "plaus"},
          "mark": {"type": "line", "strokeWidth": 2},
          "encoding": {
            "x": {"field": "t", "type": "temporal", "axis": null},
            "y": {"field": "velodyne", "type": "quantitative", "axis": null},
            "color": {"datum": "Velodyne", "type": "nominal"}
          }
        },
        {
          "data": {"values": [{"label": "Dec 14, 2020"}]},
          "mark": {"type": "text", "fontSize": 20.5, "dy": 46, "color": "#262626", "font": "Liberation Sans", "baseline": "middle"},
          "encoding": {
            "x": {"datum": {"year": 2020, "month": 12, "date": 14, "hours": 14, "minutes": 43, "seconds": 3, "milliseconds": 600, "utc": true}, "type": "temporal", "axis": null},
            "y": {"datum": -1.05, "type": "quantitative", "axis": null},
            "text": {"field": "label"}
          }
        }
      ]
    },
    {
      "width": 503, "height": 247,
      "title": {"text": "Radar"},
      "resolve": {"axis": {"x": "independent", "y": "independent"}},
      "layer": [
        {
          "data": {"name": "radar"},
          "mark": {"type": "line", "strokeWidth": 1.8},
          "encoding": {
            "x": {"field": "t", "type": "temporal",
              "scale": {"type": "utc", "domain": [{"year": 2020, "month": 12, "date": 14, "hours": 14, "minutes": 42, "seconds": 3, "milliseconds": 860, "utc": true}, {"year": 2020, "month": 12, "date": 14, "hours": 14, "minutes": 43, "seconds": 15, "utc": true}]},
              "axis": {"title": "Zeit", "format": "%H:%M:%S", "grid": true, "labelPadding": 12, "titlePadding": 8,
                "values": [{"year": 2020, "month": 12, "date": 14, "hours": 14, "minutes": 42, "seconds": 15, "utc": true}, {"year": 2020, "month": 12, "date": 14, "hours": 14, "minutes": 42, "seconds": 30, "utc": true}, {"year": 2020, "month": 12, "date": 14, "hours": 14, "minutes": 42, "seconds": 45, "utc": true}, {"year": 2020, "month": 12, "date": 14, "hours": 14, "minutes": 43, "seconds": 0, "utc": true}, {"year": 2020, "month": 12, "date": 14, "hours": 14, "minutes": 43, "seconds": 15, "utc": true}]}},
            "y": {"field": "m", "type": "quantitative",
              "scale": {"domain": [-1.05, 1.05], "nice": false, "zero": false},
              "axis": {"title": "Korrelationskoeffizienten", "values": [-1, -0.5, 0, 0.5, 1], "labelExpr": "'' + datum.value", "grid": true, "labelPadding": 13, "titlePadding": 5}},
            "color": {"datum": "manipuliert", "type": "nominal",
              "scale": {"domain": ["manipuliert", "real", "Grenzwerte"], "range": ["#0072BD", "#D95319", "#FF0000"]},
              "legend": {"orient": "none", "legendX": 9, "legendY": 153.5, "title": null}}
          }
        },
        {
          "data": {"name": "radar"},
          "mark": {"type": "line", "strokeWidth": 1.8},
          "encoding": {
            "x": {"field": "t", "type": "temporal",
              "axis": {"orient": "top", "labels": false, "title": null, "grid": false,
                "values": [{"year": 2020, "month": 12, "date": 14, "hours": 14, "minutes": 42, "seconds": 15, "utc": true}, {"year": 2020, "month": 12, "date": 14, "hours": 14, "minutes": 42, "seconds": 30, "utc": true}, {"year": 2020, "month": 12, "date": 14, "hours": 14, "minutes": 42, "seconds": 45, "utc": true}, {"year": 2020, "month": 12, "date": 14, "hours": 14, "minutes": 43, "seconds": 0, "utc": true}]}},
            "y": {"field": "r", "type": "quantitative",
              "axis": {"orient": "right", "labels": false, "title": null, "grid": false, "values": [-1, -0.5, 0, 0.5, 1]}},
            "color": {"datum": "real", "type": "nominal"}
          }
        },
        {
          "data": {"name": "limits"},
          "transform": [{"filter": "datum.p == 'Radar'"}],
          "mark": {"type": "rule", "strokeWidth": 1.5},
          "encoding": {
            "y": {"field": "v", "type": "quantitative", "axis": null},
            "color": {"datum": "Grenzwerte", "type": "nominal"}
          }
        },
        {
          "data": {"name": "rings"},
          "transform": [{"filter": "datum.p == 'Radar'"}],
          "mark": {"type": "point", "filled": false, "stroke": "#0072BD", "strokeWidth": 2.2, "opacity": 1},
          "encoding": {
            "x": {"field": "t", "type": "temporal", "axis": null},
            "y": {"field": "v", "type": "quantitative", "axis": null},
            "shape": {"field": "k", "type": "nominal", "legend": null,
              "scale": {"domain": ["a", "b"], "range": ["M-1,0C-1,-0.436,-0.552,-0.79,0,-0.79C0.552,-0.79,1,-0.436,1,0C1,0.436,0.552,0.79,0,0.79C-0.552,0.79,-1,0.436,-1,0Z", "M-1,0C-1,-0.296,-0.552,-0.536,0,-0.536C0.552,-0.536,1,-0.296,1,0C1,0.296,0.552,0.536,0,0.536C-0.552,0.536,-1,0.296,-1,0Z"]}},
            "size": {"field": "k", "type": "ordinal", "legend": null,
              "scale": {"domain": ["a", "b"], "range": [1156, 3136]}}
          }
        },
        {
          "data": {"values": [{"label": "Dec 14, 2020"}]},
          "mark": {"type": "text", "fontSize": 20.5, "dy": 46, "color": "#262626", "font": "Liberation Sans", "baseline": "middle"},
          "encoding": {
            "x": {"datum": {"year": 2020, "month": 12, "date": 14, "hours": 14, "minutes": 43, "seconds": 3, "milliseconds": 600, "utc": true}, "type": "temporal", "axis": null},
            "y": {"datum": -1.05, "type": "quantitative", "axis": null},
            "text": {"field": "label"}
          }
        }
      ]
    },
    {
      "width": 503, "height": 247,
      "title": {"text": "Ibeo"},
      "resolve": {"axis": {"x": "independent", "y": "independent"}},
      "layer": [
        {
          "data": {"name": "ibeo"},
          "mark": {"type": "line", "strokeWidth": 1.8},
          "encoding": {
            "x": {"field": "t", "type": "temporal",
              "scale": {"type": "utc", "domain": [{"year": 2020, "month": 12, "date": 14, "hours": 14, "minutes": 42, "seconds": 3, "milliseconds": 860, "utc": true}, {"year": 2020, "month": 12, "date": 14, "hours": 14, "minutes": 43, "seconds": 15, "utc": true}]},
              "axis": {"title": "Zeit", "format": "%H:%M:%S", "grid": true, "labelPadding": 12, "titlePadding": 8,
                "values": [{"year": 2020, "month": 12, "date": 14, "hours": 14, "minutes": 42, "seconds": 15, "utc": true}, {"year": 2020, "month": 12, "date": 14, "hours": 14, "minutes": 42, "seconds": 30, "utc": true}, {"year": 2020, "month": 12, "date": 14, "hours": 14, "minutes": 42, "seconds": 45, "utc": true}, {"year": 2020, "month": 12, "date": 14, "hours": 14, "minutes": 43, "seconds": 0, "utc": true}, {"year": 2020, "month": 12, "date": 14, "hours": 14, "minutes": 43, "seconds": 15, "utc": true}]}},
            "y": {"field": "m", "type": "quantitative",
              "scale": {"domain": [-1.05, 1.05], "nice": false, "zero": false},
              "axis": {"title": "Korrelationskoeffizienten", "values": [-1, -0.5, 0, 0.5, 1], "labelExpr": "'' + datum.value", "grid": true, "labelPadding": 13, "titlePadding": 5}},
            "color": {"datum": "manipuliert", "type": "nominal",
              "scale": {"domain": ["manipuliert", "real", "Grenzwerte"], "range": ["#0072BD", "#D95319", "#FF0000"]},
              "legend": {"orient": "none", "legendX": 9, "legendY": 153.5, "title": null}}
          }
        },
        {
          "data": {"name": "ibeo"},
          "mark": {"type": "line", "strokeWidth": 1.8},
          "encoding": {
            "x": {"field": "t", "type": "temporal",
              "axis": {"orient": "top", "labels": false, "title": null, "grid": false,
                "values": [{"year": 2020, "month": 12, "date": 14, "hours": 14, "minutes": 42, "seconds": 15, "utc": true}, {"year": 2020, "month": 12, "date": 14, "hours": 14, "minutes": 42, "seconds": 30, "utc": true}, {"year": 2020, "month": 12, "date": 14, "hours": 14, "minutes": 42, "seconds": 45, "utc": true}, {"year": 2020, "month": 12, "date": 14, "hours": 14, "minutes": 43, "seconds": 0, "utc": true}]}},
            "y": {"field": "r", "type": "quantitative",
              "axis": {"orient": "right", "labels": false, "title": null, "grid": false, "values": [-1, -0.5, 0, 0.5, 1]}},
            "color": {"datum": "real", "type": "nominal"}
          }
        },
        {
          "data": {"name": "limits"},
          "transform": [{"filter": "datum.p == 'Ibeo'"}],
          "mark": {"type": "rule", "strokeWidth": 1.5},
          "encoding": {
            "y": {"field": "v", "type": "quantitative", "axis": null},
            "color": {"datum": "Grenzwerte", "type": "nominal"}
          }
        },
        {
          "data": {"name": "rings"},
          "transform": [{"filter": "datum.p == 'Ibeo'"}],
          "mark": {"type": "point", "filled": false, "stroke": "#0072BD", "strokeWidth": 2.2, "opacity": 1},
          "encoding": {
            "x": {"field": "t", "type": "temporal", "axis": null},
            "y": {"field": "v", "type": "quantitative", "axis": null},
            "shape": {"field": "k", "type": "nominal", "legend": null,
              "scale": {"domain": ["a", "b"], "range": ["M-1,0C-1,-0.436,-0.552,-0.79,0,-0.79C0.552,-0.79,1,-0.436,1,0C1,0.436,0.552,0.79,0,0.79C-0.552,0.79,-1,0.436,-1,0Z", "M-1,0C-1,-0.296,-0.552,-0.536,0,-0.536C0.552,-0.536,1,-0.296,1,0C1,0.296,0.552,0.536,0,0.536C-0.552,0.536,-1,0.296,-1,0Z"]}},
            "size": {"field": "k", "type": "ordinal", "legend": null,
              "scale": {"domain": ["a", "b"], "range": [1156, 3136]}}
          }
        },
        {
          "data": {"values": [{"label": "Dec 14, 2020"}]},
          "mark": {"type": "text", "fontSize": 20.5, "dy": 46, "color": "#262626", "font": "Liberation Sans", "baseline": "middle"},
          "encoding": {
            "x": {"datum": {"year": 2020, "month": 12, "date": 14, "hours": 14, "minutes": 43, "seconds": 3, "milliseconds": 600, "utc": true}, "type": "temporal", "axis": null},
            "y": {"datum": -1.05, "type": "quantitative", "axis": null},
            "text": {"field": "label"}
          }
        }
      ]
    },
    {
      "width": 503, "height": 247,
      "title": {"text": "Velo"},
      "resolve": {"axis": {"x": "independent", "y": "independent"}},
      "layer": [
        {
          "data": {"name": "velo"},
          "mark": {"type": "line", "strokeWidth": 1.8},
          "encoding": {
            "x": {"field": "t", "type": "temporal",
              "scale": {"type": "utc", "domain": [{"year": 2020, "month": 12, "date": 14, "hours": 14, "minutes": 42, "seconds": 3, "milliseconds": 860, "utc": true}, {"year": 2020, "month": 12, "date": 14, "hours": 14, "minutes": 43, "seconds": 15, "utc": true}]},
              "axis": {"title": "Zeit", "format": "%H:%M:%S", "grid": true, "labelPadding": 12, "titlePadding": 8,
                "values": [{"year": 2020, "month": 12, "date": 14, "hours": 14, "minutes": 42, "seconds": 15, "utc": true}, {"year": 2020, "month": 12, "date": 14, "hours": 14, "minutes": 42, "seconds": 30, "utc": true}, {"year": 2020, "month": 12, "date": 14, "hours": 14, "minutes": 42, "seconds": 45, "utc": true}, {"year": 2020, "month": 12, "date": 14, "hours": 14, "minutes": 43, "seconds": 0, "utc": true}, {"year": 2020, "month": 12, "date": 14, "hours": 14, "minutes": 43, "seconds": 15, "utc": true}]}},
            "y": {"field": "m", "type": "quantitative",
              "scale": {"domain": [-1.05, 1.05], "nice": false, "zero": false},
              "axis": {"title": "Korrelationskoeffizienten", "values": [-1, -0.5, 0, 0.5, 1], "labelExpr": "'' + datum.value", "grid": true, "labelPadding": 13, "titlePadding": 5}},
            "color": {"datum": "manipuliert", "type": "nominal",
              "scale": {"domain": ["manipuliert", "real", "Grenzwerte"], "range": ["#0072BD", "#D95319", "#FF0000"]},
              "legend": {"orient": "none", "legendX": 9, "legendY": 153.5, "title": null}}
          }
        },
        {
          "data": {"name": "velo"},
          "mark": {"type": "line", "strokeWidth": 1.8},
          "encoding": {
            "x": {"field": "t", "type": "temporal",
              "axis": {"orient": "top", "labels": false, "title": null, "grid": false,
                "values": [{"year": 2020, "month": 12, "date": 14, "hours": 14, "minutes": 42, "seconds": 15, "utc": true}, {"year": 2020, "month": 12, "date": 14, "hours": 14, "minutes": 42, "seconds": 30, "utc": true}, {"year": 2020, "month": 12, "date": 14, "hours": 14, "minutes": 42, "seconds": 45, "utc": true}, {"year": 2020, "month": 12, "date": 14, "hours": 14, "minutes": 43, "seconds": 0, "utc": true}]}},
            "y": {"field": "r", "type": "quantitative",
              "axis": {"orient": "right", "labels": false, "title": null, "grid": false, "values": [-1, -0.5, 0, 0.5, 1]}},
            "color": {"datum": "real", "type": "nominal"}
          }
        },
        {
          "data": {"name": "limits"},
          "transform": [{"filter": "datum.p == 'Velo'"}],
          "mark": {"type": "rule", "strokeWidth": 1.5},
          "encoding": {
            "y": {"field": "v", "type": "quantitative", "axis": null},
            "color": {"datum": "Grenzwerte", "type": "nominal"}
          }
        },
        {
          "data": {"name": "rings"},
          "transform": [{"filter": "datum.p == 'Velo'"}],
          "mark": {"type": "point", "filled": false, "stroke": "#0072BD", "strokeWidth": 2.2, "opacity": 1},
          "encoding": {
            "x": {"field": "t", "type": "temporal", "axis": null},
            "y": {"field": "v", "type": "quantitative", "axis": null},
            "shape": {"field": "k", "type": "nominal", "legend": null,
              "scale": {"domain": ["a", "b"], "range": ["M-1,0C-1,-0.436,-0.552,-0.79,0,-0.79C0.552,-0.79,1,-0.436,1,0C1,0.436,0.552,0.79,0,0.79C-0.552,0.79,-1,0.436,-1,0Z", "M-1,0C-1,-0.296,-0.552,-0.536,0,-0.536C0.552,-0.536,1,-0.296,1,0C1,0.296,0.552,0.536,0,0.536C-0.552,0.536,-1,0.296,-1,0Z"]}},
            "size": {"field": "k", "type": "ordinal", "legend": null,
              "scale": {"domain": ["a", "b"], "range": [1156, 3136]}}
          }
        },
        {
          "data": {"values": [{"label": "Dec 14, 2020"}]},
          "mark": {"type": "text", "fontSize": 20.5, "dy": 46, "color": "#262626", "font": "Liberation Sans", "baseline": "middle"},
          "encoding": {
            "x": {"datum": {"year": 2020, "month": 12, "date": 14, "hours": 14, "minutes": 43, "seconds": 3, "milliseconds": 600, "utc": true}, "type": "temporal", "axis": null},
            "y": {"datum": -1.05, "type": "quantitative", "axis": null},
            "text": {"field": "label"}
          }
        }
      ]
    }
  ]
}
